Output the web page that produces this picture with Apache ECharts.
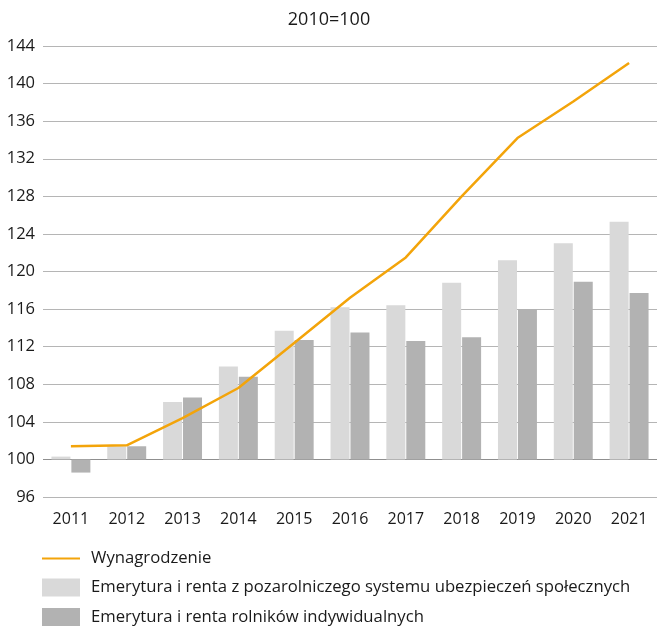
<!DOCTYPE html>
<html lang="pl">
<head>
    <meta charset="UTF-8">
    <title>wynagrodzenia_emerytury</title>
    <script src="https://cdn.jsdelivr.net/npm/echarts@6/dist/echarts.min.js"></script>
    <style>
        html, body { margin: 0; padding: 0; background: #fff; }
    </style>
</head>

<body>
    <div id="mainChart" style="width: 658px; height: 627px;"></div>
    <script>
        // 2010 = 100
        const years = ['2011', '2012', '2013', '2014', '2015', '2016', '2017', '2018', '2019', '2020', '2021']
        const wages = [101.4, 101.5, 104.4, 107.6, 112.4, 117.2, 121.5, 128.0, 134.2, 138.1, 142.2]
        const pensionsNonAgri = [100.3, 101.4, 106.1, 109.9, 113.7, 116.2, 116.4, 118.8, 121.2, 123.0, 125.3]
        const pensionsFarmers = [98.6, 101.4, 106.6, 108.8, 112.7, 113.5, 112.6, 113.0, 116.0, 118.9, 117.7]
        const base = 100

        const names = [
            'Wynagrodzenie',
            'Emerytura i renta z pozarolniczego systemu ubezpieczeń społecznych',
            'Emerytura i renta rolników indywidualnych'
        ]

        const font = '"Open Sans", sans-serif'
        const textColor = '#1a1a1a'

        // bars grow from 100, so values are plotted relative to the base
        const rel = arr => arr.map(v => +(v - base).toFixed(2))

        const gridColors = []
        for (let v = 96; v <= 144; v += 4) {
            gridColors.push(v === 100 ? '#8f8f8f' : '#b5b5b5')
        }

        let chartsData = {
            animation: false,
            title: {
                text: '2010=100',
                left: 'center',
                top: 6,
                textStyle: { fontFamily: font, fontSize: 18, fontWeight: 'normal', color: textColor }
            },
            grid: { left: 43, right: 1, top: 46, bottom: 130 },
            legend: {
                orient: 'vertical',
                left: 41,
                top: 550,
                height: 120,
                padding: 0,
                itemWidth: 38,
                itemHeight: 18,
                itemGap: 11.5,
                data: [
                    { name: names[0], itemStyle: { opacity: 0 } },
                    { name: names[1], icon: 'rect' },
                    { name: names[2], icon: 'rect' }
                ],
                textStyle: { fontFamily: font, fontSize: 16.7, color: textColor, padding: [0, 0, 0, 6] }
            },
            xAxis: {
                type: 'category',
                data: years,
                axisLine: { show: false },
                axisTick: { show: false },
                axisLabel: { fontFamily: font, fontSize: 16, color: textColor, margin: 14 }
            },
            yAxis: {
                type: 'value',
                min: -4,
                max: 44,
                interval: 4,
                axisLine: { show: false },
                axisTick: { show: false },
                axisLabel: {
                    fontFamily: font, fontSize: 16.5, color: textColor, margin: 8,
                    formatter: v => String(v + base)
                },
                splitLine: { lineStyle: { color: gridColors, width: 1 } }
            },
            series: [
                {
                    type: 'bar',
                    name: names[1],
                    data: rel(pensionsNonAgri),
                    barWidth: 19,
                    barGap: '5%',
                    itemStyle: { color: '#d9d9d9' }
                },
                {
                    type: 'bar',
                    name: names[2],
                    data: rel(pensionsFarmers),
                    barWidth: 19,
                    itemStyle: { color: '#b2b2b2' }
                },
                {
                    type: 'line',
                    name: names[0],
                    data: rel(wages),
                    symbol: 'none',
                    z: 5,
                    lineStyle: { color: '#f3a40a', width: 2.5 },
                    itemStyle: { color: '#f3a40a' }
                }
            ]
        }

        let charts = echarts.init(document.querySelector('#mainChart'))
        charts.setOption(chartsData, true)
    </script>
</body>

</html>
